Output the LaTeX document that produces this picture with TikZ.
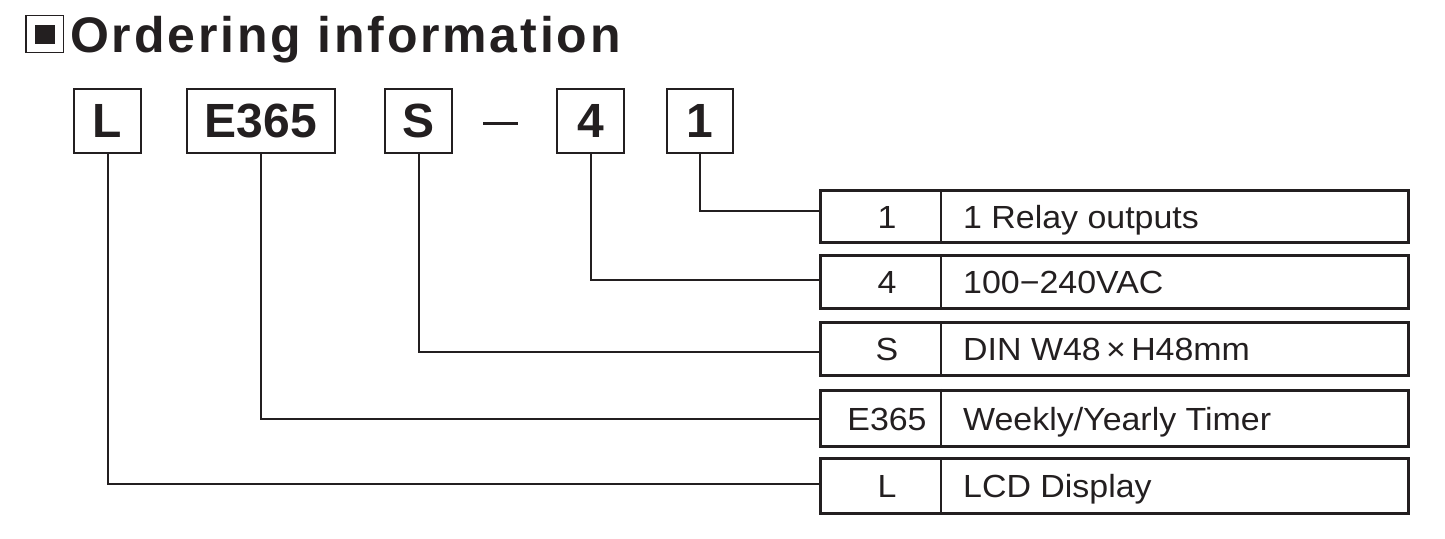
\documentclass[tikz,border=0pt]{standalone}
\usepackage{fontspec}
\setmainfont{Liberation Sans}
\newfontfamily\titlefont[LetterSpace=5.6]{Liberation Sans}
\newfontfamily\tabfont[FakeStretch=1.06]{Liberation Sans}
\definecolor{ink}{HTML}{231F20}
\begin{document}
\begin{tikzpicture}[x=1pt,y=-1pt,
  every node/.style={text=ink},
  topbox/.style={draw=ink, line width=2.6pt, minimum height=64pt, inner sep=0pt,
    font=\fontsize{48}{48}\selectfont\bfseries},
  rowbox/.style={draw=ink, line width=3pt, minimum width=587.7pt, inner sep=0pt},
  codetext/.style={anchor=base, inner sep=0pt, font=\tabfont\fontsize{32}{32}\selectfont},
  desctext/.style={anchor=base west, inner sep=0pt, font=\tabfont\fontsize{32}{32}\selectfont},
  conn/.style={draw=ink, line width=2pt},
  divider/.style={draw=ink, line width=2pt}]
\useasboundingbox (0,0) rectangle (1445,538);
% title
\node[draw=ink, line width=1.5pt, minimum width=37.3pt, minimum height=37pt, inner sep=0pt] (icon) at (44.6,34.2) {};
\node[fill=ink, minimum width=20pt, minimum height=19pt, inner sep=0pt] (iconfill) at (icon.center) {};
\node[anchor=base west, inner sep=0pt, font=\titlefont\fontsize{50}{50}\selectfont\bfseries] (title) at (70,52) {Ordering information};
% top code boxes
\node[topbox, minimum width=67pt] (L) at (107.5,121) {L};
\node[topbox, minimum width=148pt] (E) at (261,121) {E365};
\node[topbox, minimum width=67pt] (S) at (418.5,121) {S};
\node[fill=ink, minimum width=35pt, minimum height=3.5pt, inner sep=0pt] (dash) at (500.5,123.5) {};
\node[topbox, minimum width=67pt] (F) at (590.5,121) {4};
\node[topbox, minimum width=66pt] (O) at (700,121) {1};
% table rows
\node[rowbox, minimum height=51.6pt] (r1) at (1114.8,216.5) {};
\node[rowbox, minimum height=52.7pt] (r2) at (1114.8,282.3) {};
\node[rowbox, minimum height=53.3pt] (r3) at (1114.8,349.3) {};
\node[rowbox, minimum height=56.4pt] (r4) at (1114.8,418.5) {};
\node[rowbox, minimum height=54.6pt] (r5) at (1114.8,486) {};
\foreach \r in {r1,r2,r3,r4,r5}{
  \draw[divider] ([xshift=122pt]\r.north west) -- ([xshift=122pt]\r.south west);
}
\node[codetext] (c1) at (887,228) {1};
\node[codetext] (c2) at (887,293.8) {4};
\node[codetext] (c3) at (887,360.8) {S};
\node[codetext] (c4) at (887,430) {E365};
\node[codetext] (c5) at (887,497.5) {L};
\node[desctext] (d1) at (963,228) {1 Relay outputs};
\node[desctext] (d2) at (963,293.8) {100−240VAC};
\node[desctext] (d3) at (963,360.8) {DIN W48\,×\,H48mm};
\node[desctext] (d4) at (963,430) {Weekly/Yearly Timer};
\node[desctext] (d5) at (963,497.5) {LCD Display};
% connectors
\draw[conn] (O.south) |- ([yshift=5.5pt]r1.west);
\draw[conn] (F.south) |- ([yshift=2.3pt]r2.west);
\draw[conn] (S.south) |- ([yshift=-2.3pt]r3.west);
\draw[conn] (E.south) |- (r4.west);
\draw[conn] (L.south) |- ([yshift=2pt]r5.west);
\end{tikzpicture}
\end{document}
